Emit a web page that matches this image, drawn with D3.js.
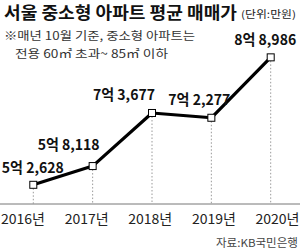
<!DOCTYPE html>
<html>
<head>
<meta charset="utf-8">
<script src="https://cdn.jsdelivr.net/npm/d3@7"></script>
<style>
  html, body { margin: 0; padding: 0; background: #fff; }
  svg { display: block; font-family: "Noto Sans CJK KR", "Noto Sans", sans-serif; }
</style>
</head>
<body>
<svg width="300" height="249"></svg>
<script>
// data
var years = ["2016년", "2017년", "2018년", "2019년", "2020년"];
var prices = [52628, 58118, 73677, 72277, 89986];
var priceLabels = ["5억 2,628", "5억 8,118", "7억 3,677", "7억 2,277", "8억 8,986"];

var svg = d3.select("svg");
var width = 300, height = 249;
var axisY = 204;

// point positions (markers) and label positions differ a little
var x = d3.scalePoint().domain(years).range([33.3, 270.7]);
var xLab = d3.scalePoint().domain(years).range([22.5, 277]);
var y = d3.scaleLinear().domain([47000, 90000]).range([axisY, 57.3]);

// title
var title = svg.append("text")
  .attr("x", 4).attr("y", 19)
  .attr("font-size", 16.5).attr("font-weight", 700)
  .attr("fill", "#111")
  .attr("textLength", 233).attr("lengthAdjust", "spacingAndGlyphs")
  .text("서울 중소형 아파트 평균 매매가");
svg.append("text")
  .attr("x", 241).attr("y", 18)
  .attr("font-size", 10).attr("fill", "#222")
  .attr("textLength", 55).attr("lengthAdjust", "spacingAndGlyphs")
  .text("(단위:만원)");

// note
svg.append("text")
  .attr("x", 4).attr("y", 40)
  .attr("font-size", 11.5).attr("fill", "#333")
  .attr("textLength", 191).attr("lengthAdjust", "spacingAndGlyphs")
  .text("※매년 10월 기준, 중소형 아파트는");
svg.append("text")
  .attr("x", 15).attr("y", 58)
  .attr("font-size", 11.5).attr("fill", "#333")
  .attr("textLength", 153).attr("lengthAdjust", "spacingAndGlyphs")
  .text("전용 60㎡ 초과~ 85㎡ 이하");

// axis line
var xAxis = d3.axisBottom(xLab).tickSize(0).tickPadding(8);
var gx = svg.append("g").attr("transform", "translate(0," + axisY + ")").call(xAxis);
gx.select(".domain").remove();
gx.selectAll("text")
  .attr("font-family", "'Noto Sans CJK KR', sans-serif")
  .attr("font-size", 13.5)
  .attr("fill", "#222")
  .attr("dy", "0.9em")
  .attr("textLength", 44).attr("lengthAdjust", "spacingAndGlyphs");
svg.append("line")
  .attr("x1", 0).attr("x2", width)
  .attr("y1", axisY).attr("y2", axisY)
  .attr("stroke", "#777").attr("stroke-width", 1);

// dotted drop lines
svg.selectAll(".drop")
  .data(years)
  .enter().append("line")
  .attr("class", "drop")
  .attr("x1", function(d) { return x(d); })
  .attr("x2", function(d) { return x(d); })
  .attr("y1", function(d, i) { return y(prices[i]); })
  .attr("y2", axisY)
  .attr("stroke", "#999").attr("stroke-width", 1)
  .attr("stroke-dasharray", "1.5,2");

// price line
var line = d3.line()
  .x(function(d, i) { return x(years[i]); })
  .y(function(d) { return y(d); });
svg.append("path")
  .datum(prices)
  .attr("d", line)
  .attr("fill", "none")
  .attr("stroke", "#000")
  .attr("stroke-width", 3.2)
  .attr("stroke-linejoin", "round");

// markers
svg.selectAll(".mk")
  .data(prices)
  .enter().append("rect")
  .attr("class", "mk")
  .attr("x", function(d, i) { return x(years[i]) - 3.5; })
  .attr("y", function(d) { return y(d) - 3.5; })
  .attr("width", 7).attr("height", 7)
  .attr("fill", "#fff").attr("stroke", "#000").attr("stroke-width", 1);

// value labels: offset from marker (dx to label centre, dy to baseline)
var offs = [[-0.5, -11.5], [-24, -16], [-28, -13], [-12, -12.6], [-5.5, -12.3]];
svg.selectAll(".val")
  .data(priceLabels)
  .enter().append("text")
  .attr("class", "val")
  .attr("x", function(d, i) { return x(years[i]) + offs[i][0]; })
  .attr("y", function(d, i) { return y(prices[i]) + offs[i][1]; })
  .attr("text-anchor", "middle")
  .attr("font-size", 14.5).attr("font-weight", 700)
  .attr("fill", "#111")
  .attr("textLength", 62).attr("lengthAdjust", "spacingAndGlyphs")
  .text(function(d) { return d; });

// source
svg.append("text")
  .attr("x", 298).attr("y", 246.5)
  .attr("text-anchor", "end")
  .attr("font-size", 11).attr("fill", "#444")
  .attr("textLength", 82).attr("lengthAdjust", "spacingAndGlyphs")
  .text("자료:KB국민은행");
</script>
</body>
</html>
